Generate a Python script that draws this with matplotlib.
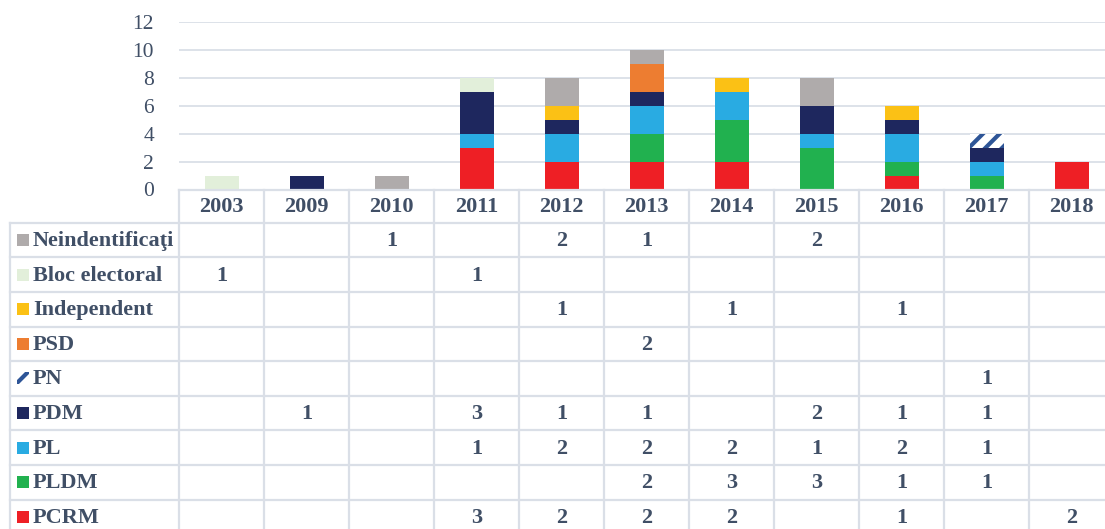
import numpy as np
import matplotlib
matplotlib.use("Agg")
import matplotlib.pyplot as plt
from matplotlib.patches import Rectangle

years = ["2003", "2009", "2010", "2011", "2012", "2013", "2014", "2015", "2016", "2017", "2018"]

# rows as shown in the table (top to bottom)
parties = ["Neindentificaţi", "Bloc electoral", "Independent", "PSD", "PN", "PDM", "PL", "PLDM", "PCRM"]

neidentificati = [0, 0, 1, 0, 2, 1, 0, 2, 0, 0, 0]
bloc_electoral = [1, 0, 0, 1, 0, 0, 0, 0, 0, 0, 0]
independent = [0, 0, 0, 0, 1, 0, 1, 0, 1, 0, 0]
psd = [0, 0, 0, 0, 0, 2, 0, 0, 0, 0, 0]
pn = [0, 0, 0, 0, 0, 0, 0, 0, 0, 1, 0]
pdm = [0, 1, 0, 3, 1, 1, 0, 2, 1, 1, 0]
pl = [0, 0, 0, 1, 2, 2, 2, 1, 2, 1, 0]
pldm = [0, 0, 0, 0, 0, 2, 3, 3, 1, 1, 0]
pcrm = [0, 0, 0, 3, 2, 2, 2, 0, 1, 0, 2]

values = [neidentificati, bloc_electoral, independent, psd, pn, pdm, pl, pldm, pcrm]
colors = ["#AFABAB", "#E2EFDA", "#FBC115", "#ED7D31", "white", "#1E275E", "#29ABE2", "#21B14F", "#EE1F25"]

txt_col = "#404F66"
grid_col = "#DADFE7"
plt.rcParams["font.family"] = ["Liberation Serif", "DejaVu Serif"]
plt.rcParams["hatch.linewidth"] = 3.0
plt.rcParams["hatch.color"] = "#2E5597"

W, H = 1105, 529
fig = plt.figure(figsize=(W / 100, H / 100), dpi=100)

# geometry in pixels
x0, colw = 179, 85
y_top, y_base = 21.7, 189.5
row0, rowh = 222.7, 34.6
lab_left = 10
fs = 16

ax = fig.add_axes([x0 / W, (H - y_base) / H, colw * 11 / W, (y_base - y_top) / H])
x = np.arange(len(years))
bottom = np.zeros(len(years))
for name, vals, c in zip(parties[::-1], values[::-1], colors[::-1]):
    vals = np.array(vals)
    if name == "PN":
        ax.bar(x, vals, 0.4, bottom=bottom, color="white", hatch="//", linewidth=0)
    else:
        ax.bar(x, vals, 0.4, bottom=bottom, color=c, linewidth=0)
    bottom += vals
ax.set_xlim(-0.5, len(years) - 0.5)
ax.set_ylim(0, 12)
ax.set_yticks(range(0, 13, 2))
ax.set_xticks([])
ax.yaxis.grid(True, color=grid_col, linewidth=1.3)
ax.set_axisbelow(True)
for s in ax.spines.values():
    s.set_visible(False)
ax.tick_params(axis="y", length=0, pad=18, labelsize=15.5, labelcolor=txt_col)

# data table below the chart
tab = fig.add_axes([0, 0, 1, 1])
tab.set_xlim(0, W)
tab.set_ylim(H, 0)
tab.axis("off")
right = x0 + colw * 11
n_rows = len(parties)
bot = row0 + rowh * n_rows
lw = 1.6
tab.plot([x0, right], [y_base, y_base], color=grid_col, lw=lw)
for k in range(12):
    tab.plot([x0 + colw * k] * 2, [y_base, bot], color=grid_col, lw=lw)
tab.plot([lab_left, lab_left], [row0, bot], color=grid_col, lw=lw)
for r in range(n_rows + 1):
    tab.plot([lab_left, right], [row0 + rowh * r] * 2, color=grid_col, lw=lw)

for i, yr in enumerate(years):
    tab.text(x0 + colw * (i + 0.5), (y_base + row0) / 2 + 1, yr, ha="center", va="center",
             fontsize=fs, fontweight="bold", color=txt_col)

for r, (name, vals, c) in enumerate(zip(parties, values, colors)):
    yc = row0 + rowh * (r + 0.5)
    if name == "PN":
        tab.add_patch(Rectangle((17, yc - 6), 12, 12, facecolor="white", hatch="//", linewidth=0))
    else:
        tab.add_patch(Rectangle((17, yc - 6), 12, 12, facecolor=c, linewidth=0))
    tab.text(33, yc + 1, name, ha="left", va="center", fontsize=fs,
             fontweight="bold", color=txt_col)
    for i, v in enumerate(vals):
        if v:
            tab.text(x0 + colw * (i + 0.5), yc + 1, str(v), ha="center", va="center",
                     fontsize=fs, fontweight="bold", color=txt_col)

fig.savefig("out.png", dpi=100)
